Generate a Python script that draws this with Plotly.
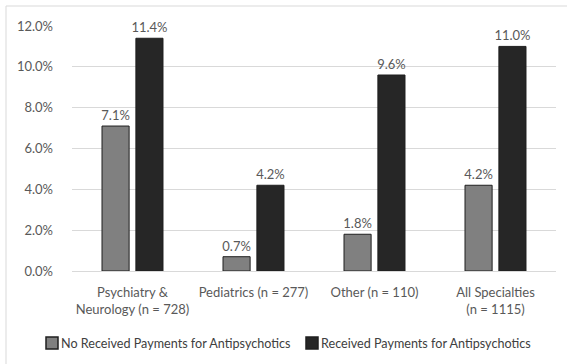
import plotly.graph_objects as go

categories = ["Psychiatry &<br>Neurology (n = 728)", "Pediatrics (n = 277)",
              "Other (n = 110)", "All Specialties<br>(n = 1115)"]
no_payments = [7.1, 0.7, 1.8, 4.2]
received_payments = [11.4, 4.2, 9.6, 11.0]
series_names = ["No Received Payments for Antipsychotics",
                "Received Payments for Antipsychotics"]
y_ticks = [0, 2, 4, 6, 8, 10, 12]

FONT = "Lato, Open Sans, sans-serif"
TEXT_COLOR = "#595959"
FILLS = ["#808080", "#262626"]

W, H = 567, 364
ML, MR, MT, MB = 72, 11, 26, 93
PW, PH = W - ML - MR, H - MT - MB


def px_x(px):
    return (px - ML) / PW


def px_y(py):
    return (H - MB - py) / PH


fig = go.Figure()
for name, vals, fill in zip(series_names, [no_payments, received_payments], FILLS):
    fig.add_trace(go.Bar(
        x=categories, y=vals, name=name,
        marker=dict(color=fill, line=dict(color="#1f1f1f", width=1)),
        texttemplate="%{y:.1f}%", textposition="outside", cliponaxis=False,
        constraintext="none",
        textfont=dict(size=13, color=TEXT_COLOR, family=FONT),
    ))

# outer chart frame
shapes = [dict(type="rect", xref="paper", yref="paper",
               x0=px_x(6), x1=px_x(W + 20), y0=px_y(H + 20), y1=px_y(6),
               line=dict(color="#d9d9d9", width=1), layer="below")]
annotations = []

# legend row beneath the axis
legend_items = [(46, series_names[0], FILLS[0]), (306, series_names[1], FILLS[1])]
for x0, name, fill in legend_items:
    shapes.append(dict(type="rect", xref="paper", yref="paper",
                       x0=px_x(x0), x1=px_x(x0 + 12), y0=px_y(349), y1=px_y(337),
                       fillcolor=fill, line=dict(color="#1f1f1f", width=1.5)))
    annotations.append(dict(text=name, xref="paper", yref="paper",
                            x=px_x(x0 + 13), y=px_y(343), xanchor="left", yanchor="middle",
                            showarrow=False,
                            font=dict(size=12.6, color="#404040", family=FONT)))

fig.update_layout(
    width=W, height=H,
    margin=dict(l=ML, r=MR, t=MT, b=MB),
    paper_bgcolor="white", plot_bgcolor="white",
    barmode="group", bargap=0.44, bargroupgap=0.2,
    font=dict(family=FONT, size=13, color=TEXT_COLOR),
    showlegend=False,
    shapes=shapes, annotations=annotations,
)
fig.update_xaxes(showgrid=False, showline=False, ticks="", ticklabelstandoff=12,
                 tickfont=dict(size=13, color=TEXT_COLOR, family=FONT))
fig.update_yaxes(range=[0, 12], tickvals=y_ticks,
                 ticktext=[f"{v:.1f}%" for v in y_ticks],
                 showgrid=True, gridcolor="#d9d9d9", gridwidth=1,
                 zeroline=True, zerolinecolor="#d9d9d9", zerolinewidth=1,
                 showline=False, ticks="", ticklabelstandoff=18,
                 tickfont=dict(size=13, color=TEXT_COLOR, family=FONT))

fig.write_html("out.html")
